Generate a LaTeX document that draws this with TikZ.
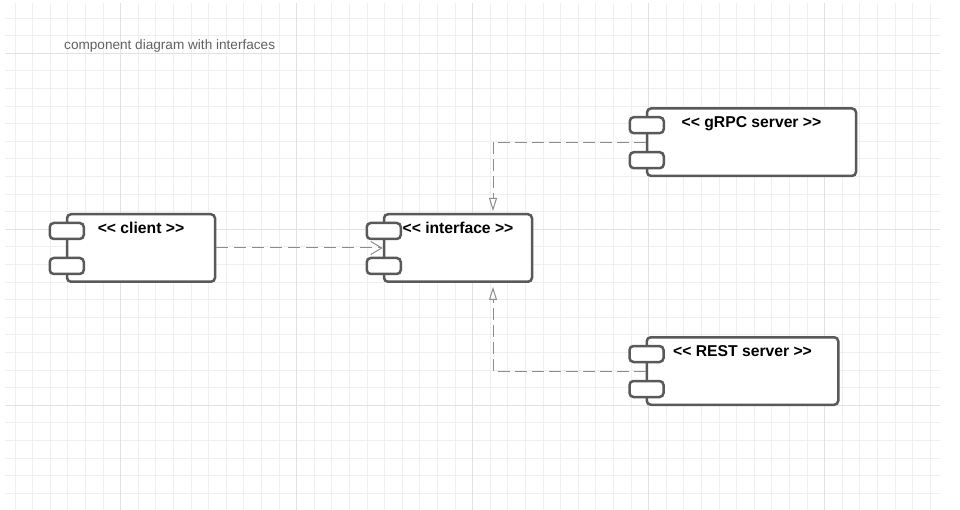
\documentclass[tikz,border=0pt]{standalone}
\usepackage{fontspec}
\setmainfont{Liberation Sans}[Ligatures=TeXOff]
\usetikzlibrary{arrows.meta,calc}
\definecolor{edgegray}{HTML}{595959}
\definecolor{linkgray}{HTML}{8C8C8C}
\definecolor{gridminor}{HTML}{EFEFEF}
\definecolor{gridmajor}{HTML}{E2E2E2}
\definecolor{titlegray}{HTML}{616161}

\begin{document}
\begin{tikzpicture}[
  x=1pt,y=-1pt,
  comp/.style={draw=edgegray,line width=2.5pt,rounded corners=4pt,fill=white,inner sep=0pt,
    text height=19.5pt,text depth=48pt,font=\fontsize{15.7}{18}\selectfont\bfseries},
  port/.style={draw=edgegray,line width=2.5pt,rounded corners=4pt,fill=white,
    minimum width=34pt,minimum height=16pt,inner sep=0pt},
  uses/.style={draw=linkgray,line width=1pt,dash pattern=on 12pt off 6pt,
    -{Straight Barb[length=11pt,width=13pt,line width=1pt]}},
  realizes/.style={draw=linkgray,line width=1pt,dash pattern=on 12pt off 5pt,shorten >=2pt,
    -{Triangle[open,length=13pt,width=8pt,line width=1pt]}}
]
\useasboundingbox (0,0) rectangle (960,510);
\fill[white] (0,0) rectangle (960,510);

% background grid
\foreach \gx in {0,...,52}
  \draw[gridminor,line width=1pt] ({15.1+17.6*\gx},3) -- ({15.1+17.6*\gx},510);
\foreach \gy in {1,...,28}
  \draw[gridminor,line width=1pt] (5,{0.5+17.6*\gy}) -- (940,{0.5+17.6*\gy});
\foreach \gx in {120.7,296.7,472.7,648.7,824.7}
  \draw[gridmajor,line width=1pt] (\gx,3) -- (\gx,510);
\foreach \gy in {53.3,229.3,405.3}
  \draw[gridmajor,line width=1pt] (5,\gy) -- (940,\gy);

\node[anchor=west,text=titlegray,inner sep=0pt,font=\fontsize{13.6}{16}\selectfont] (title) at (64,46)
  {component diagram with interfaces};

% components
\node[comp,minimum width=148pt] (client) at (141,248) {<< client >>};
\node[comp,minimum width=148pt] (iface) at (458,248) {<< interface >>};
\node[comp,minimum width=209pt] (grpc) at (751.5,142.2) {<< gRPC server >>};
\node[comp,minimum width=191.5pt] (rest) at (742.5,371) {<< REST server >>};

\foreach \c in {client,iface,grpc,rest} {
  \node[port] (\c-top) at ($(\c.north west)+(1,18)$) {};
  \node[port] (\c-bot) at ($(\c.north west)+(1,53)$) {};
}

% dependencies
\draw[uses] (client) -- (iface);
\draw[realizes] (grpc.west) -| ([xshift=35pt]iface.north);
\draw[realizes,shorten >=4pt] (rest.west) -| ([xshift=35pt]iface.south);
\end{tikzpicture}
\end{document}
